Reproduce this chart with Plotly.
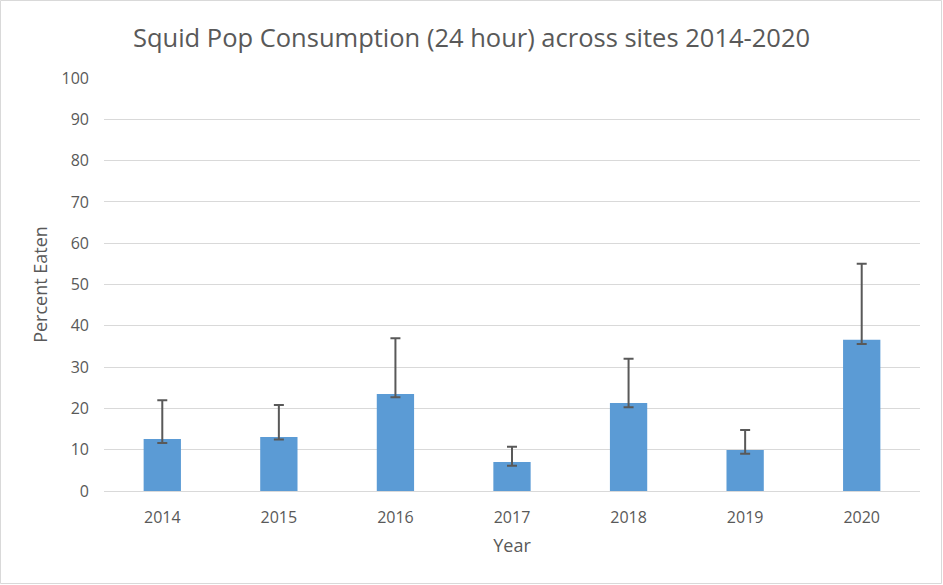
import plotly.graph_objects as go

years = ["2014", "2015", "2016", "2017", "2018", "2019", "2020"]
percent_eaten = [12.6, 13.1, 23.5, 7.0, 21.3, 9.9, 36.6]
err_plus = [9.4, 7.7, 13.5, 3.7, 10.7, 4.9, 18.4]
err_minus = [1.0, 0.6, 0.8, 0.9, 1.0, 0.9, 1.0]
y_ticks = [0, 10, 20, 30, 40, 50, 60, 70, 80, 90, 100]

W, H = 943, 585
ml, mr, mt, mb = 104, 23, 78, 94
pw, ph = W - ml - mr, H - mt - mb

fig = go.Figure(go.Bar(
    x=years, y=percent_eaten,
    marker=dict(color="#5B9BD5", line=dict(width=0)),
    error_y=dict(type="data", symmetric=False, array=err_plus, arrayminus=err_minus,
                 color="#595959", thickness=2, width=5),
))

font = "Open Sans, Liberation Sans, sans-serif"
fig.update_layout(
    width=W, height=H,
    margin=dict(l=ml, r=mr, t=mt, b=mb),
    paper_bgcolor="white", plot_bgcolor="white",
    bargap=0.68,
    showlegend=False,
    title=dict(text="Squid Pop Consumption (24 hour) across sites 2014-2020",
               x=0.5, xref="container", y=1 - 38 / H, yref="container",
               yanchor="middle", xanchor="center",
               font=dict(family=font, size=25.5, color="#595959")),
    xaxis=dict(title=dict(text="Year", font=dict(family=font, size=18, color="#595959"), standoff=12),
               tickfont=dict(family=font, size=16, color="#595959"), ticklabelstandoff=12,
               showline=True, linecolor="#D9D9D9", linewidth=1, ticks="", showgrid=False),
    yaxis=dict(title=dict(text="Percent Eaten", font=dict(family=font, size=18, color="#595959"), standoff=9),
               tickfont=dict(family=font, size=16, color="#595959"), ticklabelstandoff=14,
               range=[0, 100], tickvals=y_ticks, showgrid=True, gridcolor="#D9D9D9",
               gridwidth=1, zeroline=False, ticks="", showline=False),
    shapes=[dict(type="rect", xref="paper", yref="paper",
                 x0=(0.5 - ml) / pw, x1=(W - 1.5 - ml) / pw,
                 y0=-(H - 1.5 - (mt + ph)) / ph, y1=1 + (mt - 0.5) / ph,
                 line=dict(color="#D9D9D9", width=1), fillcolor="rgba(0,0,0,0)", layer="below")],
)
fig.write_html("out.html", config={"displayModeBar": False},
               post_script="document.body.style.margin='0';")
